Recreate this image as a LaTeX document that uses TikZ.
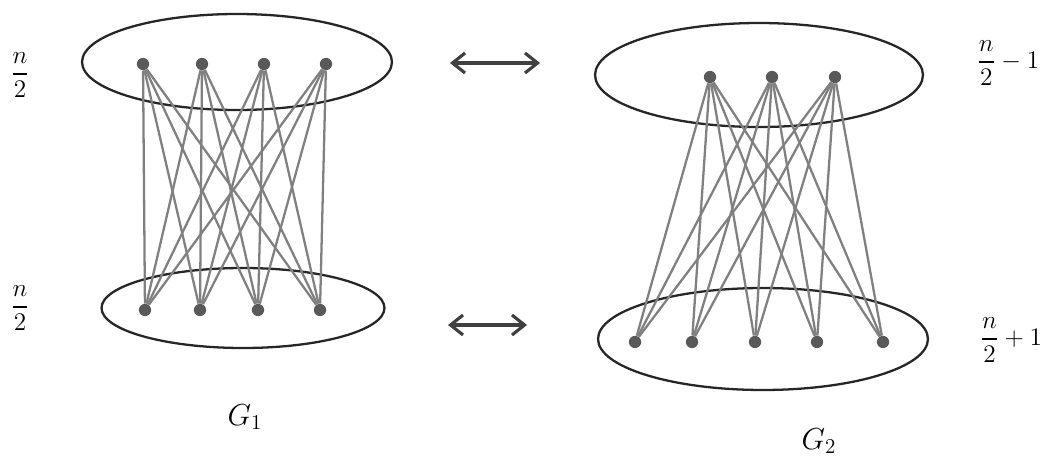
\documentclass[tikz,border=0pt]{standalone}
\usepackage{amsmath}
\usetikzlibrary{shapes.geometric, arrows.meta, positioning, calc}
\begin{document}
\begin{tikzpicture}[x=0.02cm, y=-0.02cm,
  blob/.style={ellipse, draw=black!85, line width=1.3pt, inner sep=0pt},
  vtx/.style={circle, fill=black!65, inner sep=0pt, minimum size=7pt},
  link/.style={draw=black!50, line width=1.3pt},
  lbl/.style={font=\Large, inner sep=0pt},
  arr/.style={{Straight Barb[length=2.5mm, width=4mm]}-{Straight Barb[length=2.5mm, width=4mm]}, line width=1.8pt, draw=black!75}
]
\useasboundingbox (0,0) rectangle (1055,456);
% the four vertex sets
\node[blob, minimum width=6.2cm, minimum height=1.92cm] (top1) at (237,62) {};
\node[blob, minimum width=5.66cm, minimum height=1.6cm] (bot1) at (243,308) {};
\node[blob, minimum width=6.56cm, minimum height=2.08cm] (top2) at (759,75) {};
\node[blob, minimum width=6.6cm, minimum height=2.04cm] (bot2) at (763,339) {};
% vertices
\foreach \x [count=\i] in {143,202,264,326} \node[vtx] (a\i) at (\x,64) {};
\foreach \x [count=\i] in {145,200,258,320} \node[vtx] (b\i) at (\x,310) {};
\foreach \x [count=\i] in {710,772,835} \node[vtx] (c\i) at (\x,77) {};
\foreach \x [count=\i] in {635,692,755,817,883} \node[vtx] (d\i) at (\x,342) {};
% complete bipartite edges
\foreach \i in {1,...,4} \foreach \j in {1,...,4} \draw[link] (a\i) -- (b\j);
\foreach \i in {1,...,3} \foreach \j in {1,...,5} \draw[link] (c\i) -- (d\j);
% sizes
\node[lbl] (ntop1) at (20,75) {$\dfrac{n}{2}$};
\node[lbl] (nbot1) at (20,308) {$\dfrac{n}{2}$};
\node[lbl] (ntop2) at (1008,63) {$\dfrac{n}{2}-1$};
\node[lbl] (nbot2) at (1011,340) {$\dfrac{n}{2}+1$};
\node[lbl, font=\LARGE] (g1) at (245,417) {$G_1$};
\node[lbl, font=\LARGE] (g2) at (819,441) {$G_2$};
% correspondences
\coordinate (p1) at (450,63);
\coordinate (q1) at (540,63);
\coordinate (p2) at (448,325);
\coordinate (q2) at (527,325);
\draw[arr] (p1) -- (q1);
\draw[arr] (p2) -- (q2);
\end{tikzpicture}
\end{document}
